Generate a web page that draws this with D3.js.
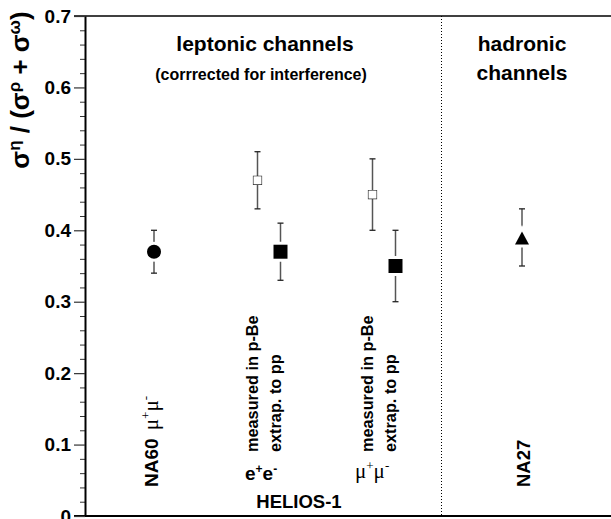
<!DOCTYPE html>
<html>
<head>
<meta charset="utf-8">
<script src="https://cdn.jsdelivr.net/npm/d3@7"></script>
<style>
  body { margin: 0; background: #fff; }
  text { font-family: "Liberation Sans", Arial, sans-serif; font-weight: bold; fill: #000; }
  .greek { font-family: "Liberation Serif", "Times New Roman", serif; font-weight: normal; }
</style>
</head>
<body>
<div id="chart"></div>
<script>
// chart data
var categories = [ 'NA60 mu+mu-', 'HELIOS-1 e+e- p-Be', 'HELIOS-1 e+e- pp', 'HELIOS-1 mu+mu- p-Be', 'HELIOS-1 mu+mu- pp', 'NA27' ];
var xPos       = [ 3, 7.5, 8.5, 12.5, 13.5, 19 ];
var values     = [ 0.37, 0.47, 0.37, 0.45, 0.35, 0.39 ];
var errLow     = [ 0.34, 0.43, 0.33, 0.40, 0.30, 0.35 ];
var errHigh    = [ 0.40, 0.51, 0.41, 0.50, 0.40, 0.43 ];
var markers    = [ 'circle', 'open', 'square', 'open', 'square', 'triangle' ];
var majorTicks = [ 0, 0.1, 0.2, 0.3, 0.4, 0.5, 0.6, 0.7 ];
var minorTicks = [ 0.02, 0.04, 0.06, 0.08, 0.12, 0.14, 0.16, 0.18, 0.22, 0.24, 0.26, 0.28,
                   0.32, 0.34, 0.36, 0.38, 0.42, 0.44, 0.46, 0.48, 0.52, 0.54, 0.56, 0.58,
                   0.62, 0.64, 0.66, 0.68 ];
var dividerX   = 15.5;

var W = 611, H = 519;
var margin = { top: 16, left: 85, bottom: 3 };

var xScale = d3.scaleLinear().domain( [ 0, 23 ] ).range( [ margin.left, margin.left + 23 * 23 ] );
var yScale = d3.scaleLinear().domain( [ 0, 0.7 ] ).range( [ H - margin.bottom, margin.top ] );

var svg = d3.select( '#chart' ).append( 'svg' )
	.attr( 'width', W )
	.attr( 'height', H );

// frame lines top and bottom
svg.append( 'line' )
	.attr( 'x1', margin.left - 11 ).attr( 'x2', W )
	.attr( 'y1', yScale( 0.7 ) ).attr( 'y2', yScale( 0.7 ) )
	.attr( 'stroke', '#000' ).attr( 'stroke-width', 1.5 );
svg.append( 'line' )
	.attr( 'x1', margin.left - 11 ).attr( 'x2', W )
	.attr( 'y1', yScale( 0 ) ).attr( 'y2', yScale( 0 ) )
	.attr( 'stroke', '#000' ).attr( 'stroke-width', 2 );

// dotted separator
svg.append( 'line' )
	.attr( 'x1', xScale( dividerX ) ).attr( 'x2', xScale( dividerX ) )
	.attr( 'y1', yScale( 0.7 ) ).attr( 'y2', yScale( 0 ) )
	.attr( 'stroke', '#000' ).attr( 'stroke-width', 1 )
	.attr( 'stroke-dasharray', '1,2' );

// y axis
var yAxis = d3.axisLeft( yScale )
	.tickValues( majorTicks )
	.tickSize( 11 )
	.tickSizeOuter( 0 )
	.tickPadding( 3 )
	.tickFormat( function( d ) { return d === 0 ? '0' : d3.format( '.1f' )( d ); } );

var yMinor = d3.axisLeft( yScale )
	.tickValues( minorTicks )
	.tickSize( 5 )
	.tickSizeOuter( 0 )
	.tickFormat( '' );

var gMinor = svg.append( 'g' )
	.attr( 'transform', 'translate(' + margin.left + ',0)' )
	.call( yMinor );
gMinor.select( '.domain' ).remove();
gMinor.selectAll( 'line' ).attr( 'stroke', '#333' );

var gAxis = svg.append( 'g' )
	.attr( 'transform', 'translate(' + margin.left + ',0)' )
	.call( yAxis );
gAxis.select( '.domain' ).attr( 'stroke-width', 2 );
gAxis.selectAll( 'line' ).attr( 'stroke', '#333' ).attr( 'stroke-width', 1.2 );
gAxis.selectAll( 'text' )
	.attr( 'font-size', 19 )
	.style( 'font-family', '"Liberation Sans", Arial, sans-serif' )
	.style( 'font-weight', 'bold' )
	.attr( 'fill', '#000' );

// y axis title
var yTitle = svg.append( 'text' )
	.attr( 'transform', 'translate(29,' + 90 + ') rotate(-90)' )
	.attr( 'text-anchor', 'middle' )
	.attr( 'font-size', 26 );
yTitle.append( 'tspan' ).text( 'σ' );
yTitle.append( 'tspan' ).attr( 'dy', -9 ).attr( 'font-size', 17 ).text( 'η' );
yTitle.append( 'tspan' ).attr( 'dy', 9 ).text( ' / (σ' );
yTitle.append( 'tspan' ).attr( 'dy', -9 ).attr( 'font-size', 17 ).text( 'ρ' );
yTitle.append( 'tspan' ).attr( 'dy', 9 ).text( ' + σ' );
yTitle.append( 'tspan' ).attr( 'dy', -9 ).attr( 'font-size', 17 ).text( 'ω' );
yTitle.append( 'tspan' ).attr( 'dy', 9 ).text( ')' );

// error bars
var errColor = '#555';
var points = d3.range( values.length ).map( function( i ) {
	return { x: xPos[ i ], v: values[ i ], lo: errLow[ i ], hi: errHigh[ i ], m: markers[ i ] };
});

var eb = svg.selectAll( '.err' ).data( points ).enter().append( 'g' ).attr( 'class', 'err' );
eb.append( 'line' )
	.attr( 'x1', function( d ) { return xScale( d.x ); } )
	.attr( 'x2', function( d ) { return xScale( d.x ); } )
	.attr( 'y1', function( d ) { return yScale( d.lo ); } )
	.attr( 'y2', function( d ) { return yScale( d.hi ); } )
	.attr( 'stroke', errColor ).attr( 'stroke-width', 1.5 );
[ 'lo', 'hi' ].forEach( function( k ) {
	eb.append( 'line' )
		.attr( 'x1', function( d ) { return xScale( d.x ) - 3; } )
		.attr( 'x2', function( d ) { return xScale( d.x ) + 3; } )
		.attr( 'y1', function( d ) { return yScale( d[ k ] ); } )
		.attr( 'y2', function( d ) { return yScale( d[ k ] ); } )
		.attr( 'stroke', '#222' ).attr( 'stroke-width', 1.3 );
});

// markers
var mk = svg.selectAll( '.mk' ).data( points ).enter().append( 'path' )
	.attr( 'class', 'mk' )
	.attr( 'transform', function( d ) { return 'translate(' + xScale( d.x ) + ',' + yScale( d.v ) + ')'; } )
	.attr( 'd', function( d ) {
		if ( d.m === 'circle' ) return 'M-7,0A7,7 0 1,0 7,0A7,7 0 1,0 -7,0Z';
		if ( d.m === 'square' ) return 'M-7,-7H7V7H-7Z';
		if ( d.m === 'open' ) return 'M-4,-4H4V4H-4Z';
		return 'M0,-6L7,7H-7Z';
	})
	.attr( 'fill', function( d ) { return d.m === 'open' ? '#fff' : '#000'; } )
	.attr( 'stroke', function( d ) { return d.m === 'open' ? '#222' : '#fff'; } )
	.attr( 'stroke-width', function( d ) { return d.m === 'open' ? 1.2 : 6; } )
	.style( 'paint-order', 'stroke' );

// header texts
svg.append( 'text' )
	.attr( 'x', 265 ).attr( 'y', 51 )
	.attr( 'text-anchor', 'middle' ).attr( 'font-size', 21 )
	.text( 'leptonic channels' );
svg.append( 'text' )
	.attr( 'x', 261 ).attr( 'y', 80 )
	.attr( 'text-anchor', 'middle' ).attr( 'font-size', 16 )
	.text( '(corrrected for interference)' );
svg.append( 'text' )
	.attr( 'x', xScale( xPos[ 5 ] ) ).attr( 'y', 51 )
	.attr( 'text-anchor', 'middle' ).attr( 'font-size', 21 )
	.text( 'hadronic' );
svg.append( 'text' )
	.attr( 'x', xScale( xPos[ 5 ] ) ).attr( 'y', 80 )
	.attr( 'text-anchor', 'middle' ).attr( 'font-size', 21 )
	.text( 'channels' );

// rotated source labels
function rotText( x, y, size ) {
	return svg.append( 'text' )
		.attr( 'transform', 'translate(' + x + ',' + y + ') rotate(-90)' )
		.attr( 'font-size', size );
}

var na60 = rotText( xScale( xPos[ 0 ] ) + 4, 487, 19 );
na60.append( 'tspan' ).text( 'NA60 ' );
na60.append( 'tspan' ).attr( 'class', 'greek' ).attr( 'dx', 3 ).attr( 'font-size', 21 ).text( 'μ' );
na60.append( 'tspan' ).attr( 'class', 'greek' ).attr( 'dy', -8 ).attr( 'font-size', 13 ).text( '+' );
na60.append( 'tspan' ).attr( 'class', 'greek' ).attr( 'dy', 8 ).attr( 'font-size', 21 ).text( 'μ' );
na60.append( 'tspan' ).attr( 'class', 'greek' ).attr( 'dy', -8 ).attr( 'font-size', 13 ).text( '-' );

[ 1, 3 ].forEach( function( i ) {
	rotText( xScale( xPos[ i ] ), 452, 16.3 ).text( 'measured in p-Be' );
	rotText( xScale( xPos[ i + 1 ] ), 452, 16.3 ).text( 'extrap. to pp' );
});

rotText( xScale( xPos[ 5 ] ) + 8, 487, 18.5 ).text( 'NA27' );

// e+e- and mu+mu- labels
var ee = svg.append( 'text' ).attr( 'x', 245 ).attr( 'y', 480 ).attr( 'font-size', 19 );
ee.append( 'tspan' ).text( 'e' );
ee.append( 'tspan' ).attr( 'dy', -7 ).attr( 'font-size', 12 ).text( '+' );
ee.append( 'tspan' ).attr( 'dy', 7 ).text( 'e' );
ee.append( 'tspan' ).attr( 'dy', -7 ).attr( 'font-size', 12 ).text( '-' );

var mm = svg.append( 'text' ).attr( 'x', 355 ).attr( 'y', 478 ).attr( 'font-size', 21 ).attr( 'class', 'greek' );
mm.append( 'tspan' ).text( 'μ' );
mm.append( 'tspan' ).attr( 'dy', -8 ).attr( 'font-size', 13 ).text( '+' );
mm.append( 'tspan' ).attr( 'dy', 8 ).text( 'μ' );
mm.append( 'tspan' ).attr( 'dy', -8 ).attr( 'font-size', 13 ).text( '-' );

svg.append( 'text' )
	.attr( 'x', 299 ).attr( 'y', 508 )
	.attr( 'text-anchor', 'middle' ).attr( 'font-size', 18.5 )
	.text( 'HELIOS-1' );
</script>
</body>
</html>
